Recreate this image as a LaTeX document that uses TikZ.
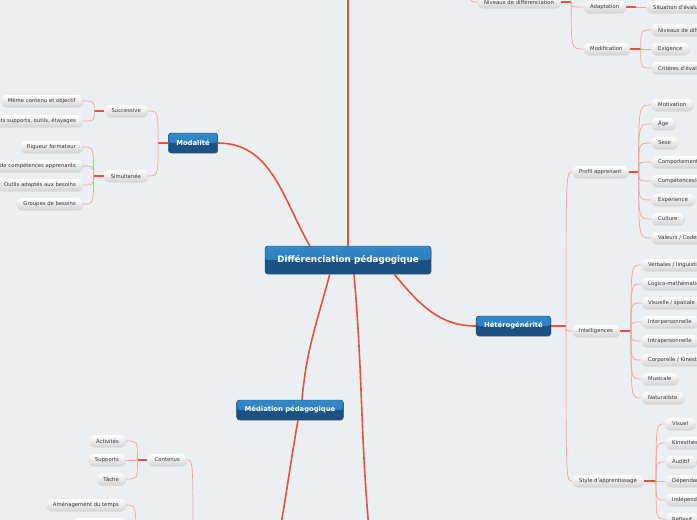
\documentclass[tikz,border=0pt]{standalone}
\usepackage{fontspec}
\setmainfont{DejaVu Sans}
\usepackage{xcolor}
\usetikzlibrary{positioning,calc,shadows}
\definecolor{bgcol}{HTML}{ECEFF1}
\definecolor{linkred}{HTML}{E9503F}
\definecolor{linkpale}{HTML}{F3A497}
\definecolor{topiclight}{HTML}{3389C9}
\definecolor{topicmid}{HTML}{2874B0}
\definecolor{topicdark}{HTML}{1C5282}
\definecolor{topicline}{HTML}{174A74}
\definecolor{leaftext}{HTML}{383838}

\begin{document}
\begin{tikzpicture}[x=1pt,y=1pt,
        main node/.style={draw=topicline, rounded corners=3pt, text=white, font=\bfseries\fontsize{6.8}{8}\selectfont,
            minimum height=20pt, inner xsep=8pt, inner ysep=0pt, fill=topicdark,
            path picture={\fill[top color=topiclight, bottom color=topicmid] (path picture bounding box.north west) rectangle (path picture bounding box.east);},
            drop shadow={opacity=0.3, shadow xshift=0.6pt, shadow yshift=-0.8pt}},
        root node/.style={main node, font=\bfseries\fontsize{8.8}{10}\selectfont, minimum height=28pt, minimum width=166pt},
        leaf node/.style={rounded corners=6pt, minimum height=12pt, inner xsep=7pt, inner ysep=0pt, text=leaftext,
            font=\fontsize{5.3}{6}\selectfont, top color=white, bottom color=black!17,
            drop shadow={opacity=0.2, shadow xshift=0.5pt, shadow yshift=-0.7pt}},
        main edge/.style={draw=linkred, line width=1.6pt},
        stub/.style={draw=linkred, line width=1.4pt},
        leaf edge/.style={draw=linkpale, line width=0.7pt}]

\useasboundingbox[fill=bgcol] (0,0) rectangle (697,-520);

\node[root node] (1) at (348,-260) {Différenciation pédagogique};
\node[main node] (2) at (193,-143) {Modalité};
\node[main node] (3) at (513.5,-326) {Hétérogénérité};
\node[main node] (4) at (290,-410) {Médiation pédagogique};

\node[leaf node, anchor=east] (5) at (148,-111) {Successive};
\node[leaf node, anchor=east] (6) at (148,-176) {Simultanée};
\node[leaf node, anchor=east] (7) at (83,-101) {Même contenu et objectif};
\node[leaf node, anchor=east] (8) at (83,-121) {Différents supports, outils, étayages};
\node[leaf node, anchor=east] (9) at (83,-147) {Rigueur formateur};
\node[leaf node, anchor=east] (10) at (83,-166) {Niveaux de compétences apprenants};
\node[leaf node, anchor=east] (11) at (83,-185) {Outils adaptés aux besoins};
\node[leaf node, anchor=east] (12) at (83,-204) {Groupes de besoins};

\node[leaf node, anchor=west] (13) at (477,-2) {Niveaux de différenciation};
\node[leaf node, anchor=west] (14) at (583,-7) {Adaptation};
\node[leaf node, anchor=west] (15) at (583,-49) {Modification};
\node[leaf node, anchor=west] (16) at (646,-7) {Situation d'évaluation};
\node[leaf node, anchor=west] (17) at (651,-30) {Niveaux de difficulté};
\node[leaf node, anchor=west] (18) at (651,-49) {Exigence};
\node[leaf node, anchor=west] (19) at (651,-68) {Critères d'évaluation};

\node[leaf node, anchor=west] (20) at (572,-172) {Profil apprenant};
\node[leaf node, anchor=west] (21) at (651,-105) {Motivation};
\node[leaf node, anchor=west] (22) at (651,-124) {Âge};
\node[leaf node, anchor=west] (23) at (651,-143) {Sexe};
\node[leaf node, anchor=west] (24) at (651,-162) {Comportement};
\node[leaf node, anchor=west] (25) at (651,-181) {Compétences/connaissances};
\node[leaf node, anchor=west] (26) at (651,-200) {Expérience};
\node[leaf node, anchor=west] (27) at (651,-219) {Culture};
\node[leaf node, anchor=west] (28) at (651,-238) {Valeurs / Codes culturels};

\node[leaf node, anchor=west] (29) at (572,-331) {Intelligences};
\node[leaf node, anchor=west] (30) at (641,-265) {Verbales / linguistiques};
\node[leaf node, anchor=west] (31) at (641,-284) {Logico-mathématiques};
\node[leaf node, anchor=west] (32) at (641,-303) {Visuelle / spatiale};
\node[leaf node, anchor=west] (33) at (641,-322) {Interpersonnelle};
\node[leaf node, anchor=west] (34) at (641,-341) {Intrapersonnelle};
\node[leaf node, anchor=west] (35) at (641,-360) {Corporelle / Kinesthésique};
\node[leaf node, anchor=west] (36) at (641,-379) {Musicale};
\node[leaf node, anchor=west] (37) at (641,-398) {Naturaliste};

\node[leaf node, anchor=west] (38) at (572,-481) {Style d'apprentissage};
\node[leaf node, anchor=west] (39) at (665,-424) {Visuel};
\node[leaf node, anchor=west] (40) at (665,-443) {Kinesthésique};
\node[leaf node, anchor=west] (41) at (665,-462) {Auditif};
\node[leaf node, anchor=west] (42) at (665,-481) {Dépendant};
\node[leaf node, anchor=west] (43) at (665,-500) {Indépendant};
\node[leaf node, anchor=west] (44) at (665,-519) {Réflexif};

\node[leaf node, anchor=east] (45) at (187,-460) {Contenus};
\node[leaf node, anchor=east] (46) at (126,-441) {Activités};
\node[leaf node, anchor=east] (47) at (126,-460) {Supports};
\node[leaf node, anchor=east] (48) at (126,-479) {Tâche};
\node[leaf node, anchor=east] (49) at (126,-505) {Aménagement du temps};
\node[leaf node, anchor=east, minimum width=53pt] (50) at (126,-524) {};

\coordinate (t1) at (348,10);
\coordinate (t2) at (470,15);
\coordinate (b1) at (369,-530);
\coordinate (b2) at (280,-530);
\coordinate (b3) at (193,-545);
\coordinate (b4) at (136,-545);
\coordinate (2l) at ([xshift=-10pt]2.west);
\coordinate (5l) at ([xshift=-10pt]5.west);
\coordinate (6l) at ([xshift=-10pt]6.west);
\coordinate (13r) at ([xshift=10pt]13.east);
\coordinate (14r) at ([xshift=10pt]14.east);
\coordinate (15r) at ([xshift=11pt]15.east);
\coordinate (3r) at ([xshift=15pt]3.east);
\coordinate (20r) at ([xshift=10pt]20.east);
\coordinate (29r) at ([xshift=11pt]29.east);
\coordinate (38r) at ([xshift=12pt]38.east);
\coordinate (45l) at ([xshift=-10pt]45.west);

\draw[main edge] (t1) -- (1.north);
\draw[main edge] (2.east) to[out=0, in=120, looseness=1] ([xshift=45pt]1.north west);
\draw[main edge] ([xshift=-37pt]1.south east) to[out=-50, in=180, looseness=1] (3.west);
\draw[main edge] ([xshift=65pt]1.south west) to[out=-105, in=85, looseness=1] ([xshift=12pt]4.north);
\draw[main edge] ([xshift=8pt]4.south) to[out=-100, in=80, looseness=1] (b2);
\draw[main edge] ([xshift=6pt]1.south) to[out=-85, in=95, looseness=1] (b1);

\draw[stub] (2.west) -- (2l);
\draw[leaf edge] (2l) .. controls (2l |- 5.east) .. (5.east);
\draw[leaf edge] (2l) .. controls (2l |- 6.east) .. (6.east);
\draw[stub] (5.west) -- (5l);
\draw[leaf edge] (5l) .. controls (5l |- 7.east) .. (7.east);
\draw[leaf edge] (5l) .. controls (5l |- 8.east) .. (8.east);
\draw[stub] (6.west) -- (6l);
\draw[leaf edge] (6l) .. controls (6l |- 9.east) .. (9.east);
\draw[leaf edge] (6l) .. controls (6l |- 10.east) .. (10.east);
\draw[leaf edge] (6l) .. controls (6l |- 11.east) .. (11.east);
\draw[leaf edge] (6l) .. controls (6l |- 12.east) .. (12.east);

\draw[leaf edge] (t2) .. controls (t2 |- 13.west) .. (13.west);
\draw[stub] (13.east) -- (13r);
\draw[leaf edge] (13r) .. controls (13r |- 14.west) .. (14.west);
\draw[leaf edge] (13r) .. controls (13r |- 15.west) .. (15.west);
\draw[stub] (14.east) -- (14r);
\draw[leaf edge] (14r) -- (16.west);
\draw[stub] (15.east) -- (15r);
\draw[leaf edge] (15r) .. controls (15r |- 17.west) .. (17.west);
\draw[leaf edge] (15r) -- (18.west);
\draw[leaf edge] (15r) .. controls (15r |- 19.west) .. (19.west);

\draw[stub] (3.east) -- (3r);
\draw[leaf edge] (3r) .. controls (3r |- 20.west) .. (20.west);
\draw[leaf edge] (3r) .. controls (3r |- 29.west) .. (29.west);
\draw[leaf edge] (3r) .. controls (3r |- 38.west) .. (38.west);

\draw[stub] (20.east) -- (20r);
\draw[leaf edge] (20r) .. controls (20r |- 21.west) .. (21.west);
\draw[leaf edge] (20r) .. controls (20r |- 22.west) .. (22.west);
\draw[leaf edge] (20r) .. controls (20r |- 23.west) .. (23.west);
\draw[leaf edge] (20r) .. controls (20r |- 24.west) .. (24.west);
\draw[leaf edge] (20r) .. controls (20r |- 25.west) .. (25.west);
\draw[leaf edge] (20r) .. controls (20r |- 26.west) .. (26.west);
\draw[leaf edge] (20r) .. controls (20r |- 27.west) .. (27.west);
\draw[leaf edge] (20r) .. controls (20r |- 28.west) .. (28.west);

\draw[stub] (29.east) -- (29r);
\draw[leaf edge] (29r) .. controls (29r |- 30.west) .. (30.west);
\draw[leaf edge] (29r) .. controls (29r |- 31.west) .. (31.west);
\draw[leaf edge] (29r) .. controls (29r |- 32.west) .. (32.west);
\draw[leaf edge] (29r) .. controls (29r |- 33.west) .. (33.west);
\draw[leaf edge] (29r) .. controls (29r |- 34.west) .. (34.west);
\draw[leaf edge] (29r) .. controls (29r |- 35.west) .. (35.west);
\draw[leaf edge] (29r) .. controls (29r |- 36.west) .. (36.west);
\draw[leaf edge] (29r) .. controls (29r |- 37.west) .. (37.west);

\draw[stub] (38.east) -- (38r);
\draw[leaf edge] (38r) .. controls (38r |- 39.west) .. (39.west);
\draw[leaf edge] (38r) .. controls (38r |- 40.west) .. (40.west);
\draw[leaf edge] (38r) .. controls (38r |- 41.west) .. (41.west);
\draw[leaf edge] (38r) -- (42.west);
\draw[leaf edge] (38r) .. controls (38r |- 43.west) .. (43.west);
\draw[leaf edge] (38r) .. controls (38r |- 44.west) .. (44.west);

\draw[leaf edge] (b3) .. controls (b3 |- 45.east) .. (45.east);
\draw[stub] (45.west) -- (45l);
\draw[leaf edge] (45l) .. controls (45l |- 46.east) .. (46.east);
\draw[leaf edge] (45l) -- (47.east);
\draw[leaf edge] (45l) .. controls (45l |- 48.east) .. (48.east);
\draw[leaf edge] (b4) .. controls (b4 |- 49.east) .. (49.east);

\end{tikzpicture}
\end{document}
